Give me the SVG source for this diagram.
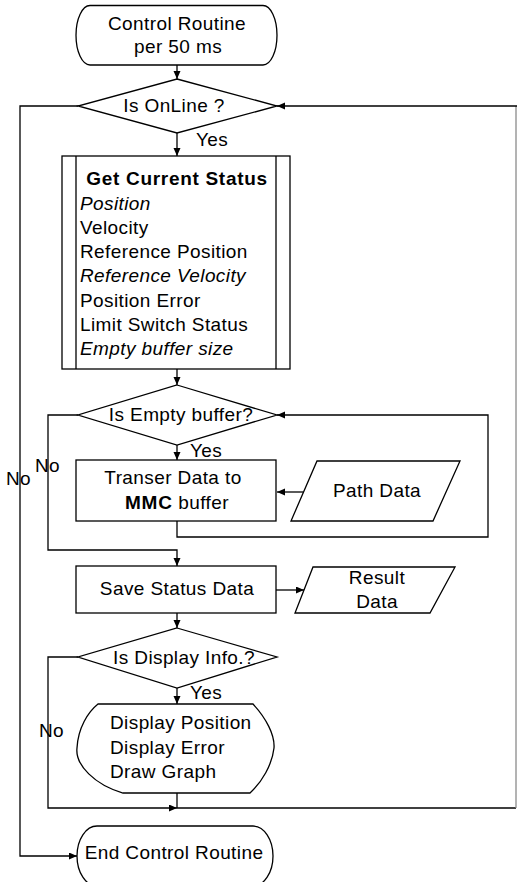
<svg xmlns="http://www.w3.org/2000/svg" width="517" height="882" viewBox="0 0 517 882">
<style>
.s{fill:#fff;stroke:#000;stroke-width:1.3}
.c{fill:none;stroke:#000;stroke-width:1.3}
.cf{fill:none;stroke:#8a8a8a;stroke-width:1.3}
text{font-family:"Liberation Sans",Arial,sans-serif;font-size:19px;fill:#000;letter-spacing:0.4px}
.m{text-anchor:middle}
.b{font-weight:bold;letter-spacing:0.7px}
</style>
<defs>
<marker id="ah" markerUnits="userSpaceOnUse" markerWidth="9" markerHeight="8" refX="8" refY="3.5" orient="auto">
<path d="M0,0 L8,3.5 L0,7 Z" fill="#000"/>
</marker>
</defs>
<rect width="517" height="882" fill="#fff"/>
<g id="connectors">
<path class="c" d="M177,65 V79" marker-end="url(#ah)"/>
<path class="c" d="M177,133 V156" marker-end="url(#ah)"/>
<path class="c" d="M177,369 V385" marker-end="url(#ah)"/>
<path class="c" d="M177,445 V460" marker-end="url(#ah)"/>
<path class="c" d="M303,492 H277" marker-end="url(#ah)"/>
<path class="c" d="M177,521 V537 H488 V415 H277" marker-end="url(#ah)"/>
<path class="c" d="M78,415 H48 V550 H177 V566" marker-end="url(#ah)"/>
<path class="c" d="M276,590 H304" marker-end="url(#ah)"/>
<path class="c" d="M177,613 V628" marker-end="url(#ah)"/>
<path class="c" d="M177,688 V704" marker-end="url(#ah)"/>
<path class="c" d="M177,793 V808"/>
<path class="c" d="M78,657 H48 V808 H177" marker-end="url(#ah)"/>
<path class="c" d="M177,808 H516"/>
<path class="cf" d="M516,808 V106"/>
<path class="c" d="M517,106 H277" marker-end="url(#ah)"/>
<path class="c" d="M78,106 H20 V856 H77" marker-end="url(#ah)"/>
<text x="196" y="146">Yes</text>
<text x="190" y="457">Yes</text>
<text x="190" y="699">Yes</text>
<text x="35" y="472">No</text>
<text x="6" y="485">No</text>
<text x="39" y="737">No</text>
</g>
<g id="start">
<path class="s" d="M90,5.5 H263 A14,29.75 0 0 1 263,65 H90 A14,29.75 0 0 1 90,5.5 Z"/>
<text class="m" x="177" y="30">Control Routine</text>
<text class="m" x="178" y="53">per 50 ms</text>
</g>
<g id="online">
<polygon class="s" points="177,79 277,106 177,133 78,106"/>
<text class="m" x="174" y="112">Is OnLine ?</text>
</g>
<g id="status">
<rect class="s" x="62" y="156" width="228" height="213"/>
<path class="c" d="M76,156 V369 M276,156 V369"/>
<text class="m b" x="177" y="185">Get Current Status</text>
<text x="80" y="210" font-style="italic">Position</text>
<text x="80" y="234">Velocity</text>
<text x="80" y="258">Reference Position</text>
<text x="80" y="282" font-style="italic">Reference Velocity</text>
<text x="80" y="307">Position Error</text>
<text x="80" y="331">Limit Switch Status</text>
<text x="80" y="355" font-style="italic">Empty buffer size</text>
</g>
<g id="emptybuf">
<polygon class="s" points="177,385 277,415 177,445 78,415"/>
<text class="m" x="181" y="421">Is Empty buffer?</text>
</g>
<g id="transfer">
<rect class="s" x="76" y="460" width="200" height="61"/>
<text class="m" x="173" y="484">Transer Data to</text>
<text class="m" x="177" y="509"><tspan class="b">MMC</tspan> buffer</text>
</g>
<g id="pathdata">
<polygon class="s" points="317,461 460,461 433,521 291,521"/>
<text class="m" x="377" y="497">Path Data</text>
</g>
<g id="save">
<rect class="s" x="76" y="566" width="200" height="47"/>
<text class="m" x="177" y="595">Save Status Data</text>
</g>
<g id="result">
<polygon class="s" points="313,567 455,567 430,613 295,613"/>
<text class="m" x="377" y="584">Result</text>
<text class="m" x="377" y="608">Data</text>
</g>
<g id="dispinfo">
<polygon class="s" points="177,628 277,657 177,688 78,657"/>
<text class="m" x="184" y="664">Is Display Info.?</text>
</g>
<g id="display">
<path class="s" d="M98,704 H253 C266,718 275,735 274,748 C272,765 262,782 250,793 H123 C95,785 75,765 77,748 C78,728 88,712 98,704 Z"/>
<text x="110" y="729">Display Position</text>
<text x="110" y="754">Display Error</text>
<text x="110" y="778">Draw Graph</text>
</g>
<g id="end">
<path class="s" d="M97,826 H253 A20,30 0 0 1 253,886 H97 A20,30 0 0 1 97,826 Z"/>
<text class="m" x="174" y="859">End Control Routine</text>
</g>
</svg>
